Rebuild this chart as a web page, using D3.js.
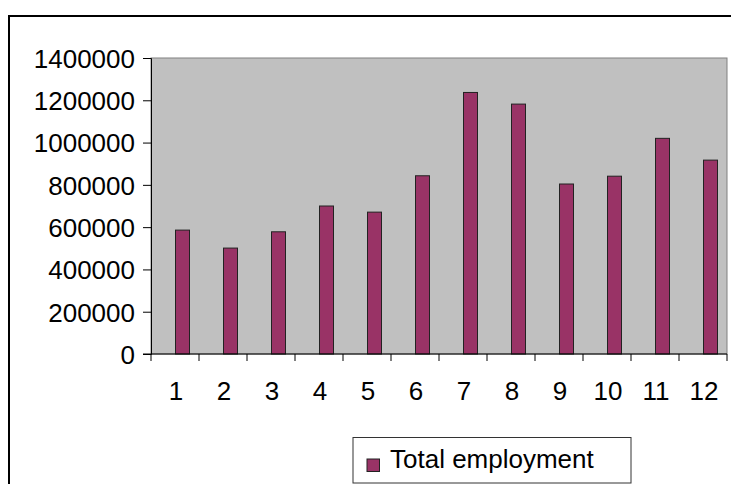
<!DOCTYPE html>
<html>
<head>
<meta charset="utf-8">
<script src="https://cdn.jsdelivr.net/npm/d3@7/dist/d3.min.js"></script>
<style>
  html, body { margin: 0; padding: 0; background: #fff; }
  svg { display: block; }
  text { font-family: "Liberation Sans", Arial, sans-serif; fill: #000; }
</style>
</head>
<body>
<svg id="chart" width="731" height="484"></svg>
<script>
// Monthly totals
const months = ["1", "2", "3", "4", "5", "6", "7", "8", "9", "10", "11", "12"];
const totalEmployment = [586000, 501000, 578000, 700000, 671000, 843000,
                         1237000, 1182000, 804000, 841000, 1020000, 917000];
const yTicks = [0, 200000, 400000, 600000, 800000, 1000000, 1200000, 1400000];
const seriesName = "Total employment";

const svg = d3.select("#chart");
const W = 731, H = 484;
const plot = { left: 151, right: 727, top: 58, bottom: 354 };
const fontSize = 26;

// outer chart frame (top and left edges visible)
svg.append("path")
  .attr("d", `M9,${H} L9,16 L${W},16`)
  .attr("fill", "none")
  .attr("stroke", "#000")
  .attr("stroke-width", 2);

const x = d3.scaleBand().domain(months).range([plot.left, plot.right]);
const y = d3.scaleLinear().domain([0, 1400000]).range([plot.bottom, plot.top]);

// plot area
svg.append("rect")
  .attr("x", plot.left).attr("y", plot.top)
  .attr("width", plot.right - plot.left).attr("height", plot.bottom - plot.top)
  .attr("fill", "#C0C0C0")
  .attr("stroke", "#808080").attr("stroke-width", 1);

// bars
const bw = x.bandwidth() * 14 / 48;
svg.append("g").selectAll("rect")
  .data(totalEmployment)
  .join("rect")
  .attr("x", (d, i) => x(months[i]) + x.bandwidth() / 2 + 0.5)
  .attr("y", d => y(d))
  .attr("width", bw)
  .attr("height", d => y(0) - y(d))
  .attr("fill", "#993366")
  .attr("stroke", "#222")
  .attr("stroke-width", 1);

// y axis
const yAxis = svg.append("g")
  .attr("transform", `translate(${plot.left},0)`)
  .call(d3.axisLeft(y).tickValues(yTicks).tickSize(8).tickPadding(8)
    .tickFormat(d3.format("d")));
yAxis.select(".domain").attr("stroke", "#000");
yAxis.selectAll(".tick line").attr("stroke", "#000");
yAxis.selectAll("text")
  .style("font-size", fontSize + "px")
  .attr("fill", "#000")
  .attr("dy", "0.36em");

// x axis with ticks between categories
const xAxis = svg.append("g")
  .attr("transform", `translate(0,${plot.bottom})`);
xAxis.append("line")
  .attr("x1", plot.left - 8).attr("x2", plot.right)
  .attr("y1", 0).attr("y2", 0)
  .attr("stroke", "#000");
const boundaries = months.map(m => x(m)).concat([plot.right]);
xAxis.selectAll("line.tick")
  .data(boundaries)
  .join("line")
  .attr("class", "tick")
  .attr("x1", d => d).attr("x2", d => d)
  .attr("y1", 0).attr("y2", 7)
  .attr("stroke", "#000");
xAxis.selectAll("text")
  .data(months)
  .join("text")
  .attr("x", d => x(d) + x.bandwidth() / 2 + 1)
  .attr("y", 46)
  .attr("text-anchor", "middle")
  .style("font-size", fontSize + "px")
  .text(d => d);

// legend
const lg = svg.append("g");
lg.append("rect")
  .attr("x", 353).attr("y", 437.5)
  .attr("width", 278).attr("height", 45.5)
  .attr("fill", "#fff")
  .attr("stroke", "#333").attr("stroke-width", 1);
lg.append("rect")
  .attr("x", 367).attr("y", 459)
  .attr("width", 12.5).attr("height", 12.5)
  .attr("fill", "#993366")
  .attr("stroke", "#222").attr("stroke-width", 1);
lg.append("text")
  .attr("x", 390).attr("y", 467.5)
  .style("font-size", fontSize + "px")
  .text(seriesName);
</script>
</body>
</html>
